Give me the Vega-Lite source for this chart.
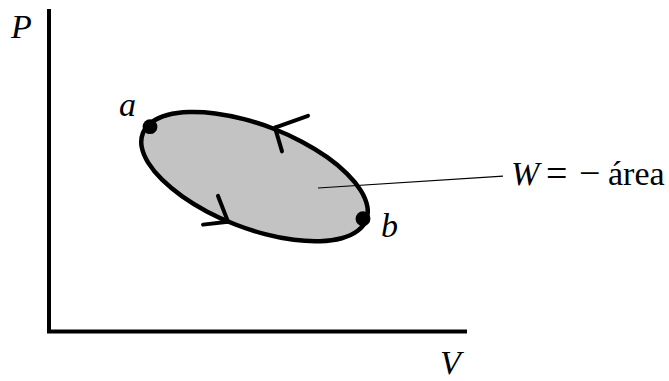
{
  "$schema": "https://vega.github.io/schema/vega-lite/v6.json",
  "width": 669,
  "height": 381,
  "autosize": {"type": "fit", "contains": "padding"},
  "padding": 0,
  "background": "white",
  "config": {"view": {"stroke": null}},
  "datasets": {
    "cycle": [
      {"i": 0, "V": 366.2, "P": 222.5},
      {"i": 1, "V": 367.3, "P": 208.5},
      {"i": 2, "V": 360.7, "P": 192.4},
      {"i": 3, "V": 346.9, "P": 175.4},
      {"i": 4, "V": 326.8, "P": 158.6},
      {"i": 5, "V": 301.8, "P": 143.2},
      {"i": 6, "V": 273.6, "P": 130.1},
      {"i": 7, "V": 244.0, "P": 120.4},
      {"i": 8, "V": 215.2, "P": 114.6},
      {"i": 9, "V": 189.0, "P": 113.2},
      {"i": 10, "V": 167.3, "P": 116.2},
      {"i": 11, "V": 151.6, "P": 123.5},
      {"i": 12, "V": 142.9, "P": 134.5},
      {"i": 13, "V": 141.7, "P": 148.5},
      {"i": 14, "V": 148.3, "P": 164.6},
      {"i": 15, "V": 162.1, "P": 181.6},
      {"i": 16, "V": 182.2, "P": 198.4},
      {"i": 17, "V": 207.2, "P": 213.9},
      {"i": 18, "V": 235.4, "P": 226.9},
      {"i": 19, "V": 265.0, "P": 236.6},
      {"i": 20, "V": 293.8, "P": 242.4},
      {"i": 21, "V": 320.0, "P": 243.8},
      {"i": 22, "V": 341.7, "P": 240.8},
      {"i": 23, "V": 357.4, "P": 233.5}
    ],
    "axes": [
      {"i": 0, "V": 49, "P": 9},
      {"i": 1, "V": 49, "P": 335},
      {"i": 2, "V": 467, "P": 335}
    ],
    "arrows": [
      {"V": 275, "P": 129, "V2": 308, "P2": 117},
      {"V": 275, "P": 129, "V2": 282, "P2": 153},
      {"V": 228, "P": 224, "V2": 218, "P2": 198},
      {"V": 228, "P": 224, "V2": 203, "P2": 227}
    ],
    "leader": [{"V": 318, "P": 190, "V2": 503, "P2": 178}],
    "states": [{"name": "a", "V": 150, "P": 128}, {"name": "b", "V": 363, "P": 221}],
    "italic": [
      {"t": "P", "V": 11, "P": 38},
      {"t": "V", "V": 440, "P": 378},
      {"t": "a", "V": 119, "P": 117},
      {"t": "b", "V": 381, "P": 240},
      {"t": "W", "V": 511, "P": 187}
    ],
    "ops": [
      {"t": "=", "V": 546, "P": 188},
      {"t": "−", "V": 579, "P": 188}
    ],
    "roman": [
      {"t": "área", "V": 608, "P": 187}
    ]
  },
  "encoding": {
    "x": {"field": "V", "type": "quantitative", "scale": {"domain": [0, 669], "nice": false, "zero": false}, "axis": null},
    "y": {"field": "P", "type": "quantitative", "scale": {"domain": [0, 381], "nice": false, "zero": false, "reverse": true}, "axis": null}
  },
  "layer": [
    {
      "data": {"name": "cycle"},
      "mark": {"type": "line", "interpolate": "cardinal-closed", "fill": "#c3c3c3", "stroke": "black", "strokeWidth": 4.5},
      "encoding": {"order": {"field": "i", "type": "quantitative"}}
    },
    {
      "data": {"name": "arrows"},
      "mark": {"type": "rule", "stroke": "black", "strokeWidth": 4, "strokeCap": "round"},
      "encoding": {"x2": {"field": "V2"}, "y2": {"field": "P2"}}
    },
    {
      "data": {"name": "leader"},
      "mark": {"type": "rule", "stroke": "black", "strokeWidth": 1.2},
      "encoding": {"x2": {"field": "V2"}, "y2": {"field": "P2"}}
    },
    {
      "data": {"name": "axes"},
      "mark": {"type": "line", "stroke": "black", "strokeWidth": 4, "strokeJoin": "miter", "strokeCap": "butt"},
      "encoding": {"order": {"field": "i", "type": "quantitative"}}
    },
    {
      "data": {"name": "states"},
      "mark": {"type": "point", "filled": true, "color": "black", "size": 220, "opacity": 1}
    },
    {
      "data": {"name": "italic"},
      "mark": {"type": "text", "font": "Liberation Serif", "fontStyle": "italic", "fontSize": 34, "align": "left", "baseline": "alphabetic", "color": "black"},
      "encoding": {"text": {"field": "t"}}
    },
    {
      "data": {"name": "ops"},
      "mark": {"type": "text", "font": "Liberation Serif", "fontSize": 38, "align": "left", "baseline": "alphabetic", "color": "black"},
      "encoding": {"text": {"field": "t"}}
    },
    {
      "data": {"name": "roman"},
      "mark": {"type": "text", "font": "Liberation Serif", "fontSize": 34, "align": "left", "baseline": "alphabetic", "color": "black"},
      "encoding": {"text": {"field": "t"}}
    }
  ]
}
